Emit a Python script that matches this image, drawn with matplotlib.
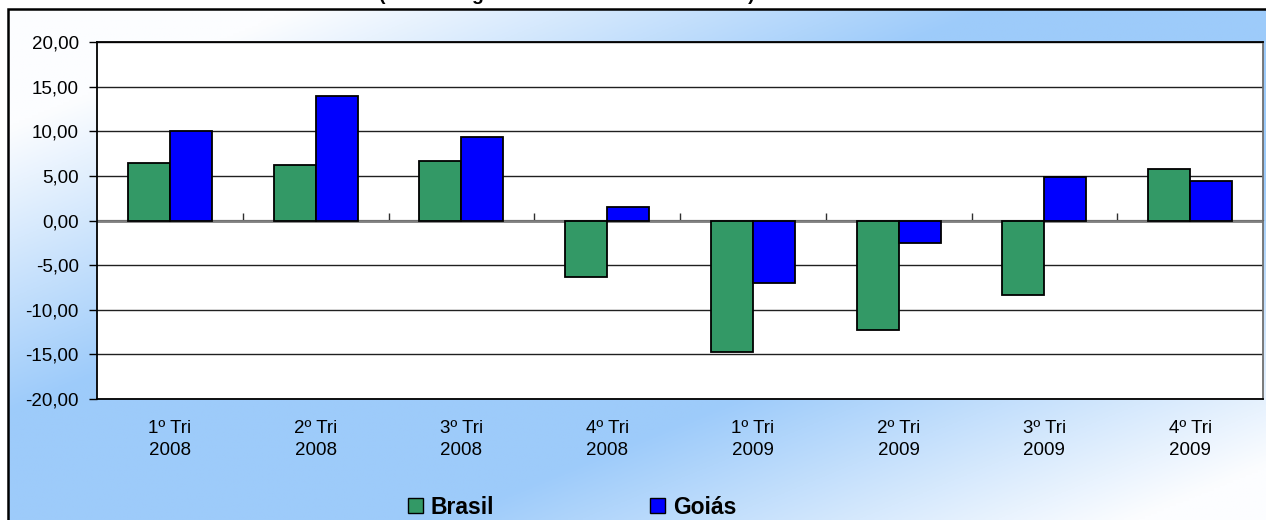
import numpy as np
import matplotlib
matplotlib.use("Agg")
import matplotlib.pyplot as plt
from matplotlib.patches import Rectangle, Patch

# data
categories = ["1º Tri\n2008", "2º Tri\n2008", "3º Tri\n2008", "4º Tri\n2008",
              "1º Tri\n2009", "2º Tri\n2009", "3º Tri\n2009", "4º Tri\n2009"]
brasil = [6.4, 6.2, 6.7, -6.3, -14.7, -12.3, -8.3, 5.8]
goias = [10.0, 14.0, 9.4, 1.5, -7.0, -2.5, 4.9, 4.4]
yticks = [-20, -15, -10, -5, 0, 5, 10, 15, 20]
title = "(% sobre igual trimestre do ano anterior)"

plt.rcParams['font.family'] = ['Liberation Sans', 'DejaVu Sans']

W, H = 1266, 520
fig = plt.figure(figsize=(W / 100, H / 100), dpi=100)
fig.patch.set_facecolor("white")

# gradient background (white corners top-left / bottom-right, blue along the other diagonal)
bg = fig.add_axes([8 / W, 0, 1 - 8 / W, 1 - 9 / H], zorder=0)
xx, yy = np.meshgrid(np.linspace(8 / W, 1, 400), np.linspace(9 / H, 1, 200))
t = xx + yy
f = np.where(t < 1, (t - 0.25) / 0.55, (1.9 - t) / 0.55)
f = np.clip(f, 0, 1)[..., None]
blue = np.array([157, 203, 250]) / 255.0
white = np.array([252, 253, 255]) / 255.0
img = white * (1 - f) + blue * f
bg.imshow(img, aspect="auto", extent=(0, 1, 0, 1), origin="upper")
bg.set_axis_off()

# outer chart border (only top/left visible)
fig.patches.append(Rectangle((8 / W, -0.1), 1.2, 1.1 - 9 / H, transform=fig.transFigure,
                             fill=False, edgecolor="black", linewidth=1.8, zorder=1))

# title sits mostly above the top edge, as in the source image
fig.text(0.448, 1 + 0.5 / H, title, ha="center", va="baseline",
         fontsize=14, fontweight="bold", zorder=3)

ax = fig.add_axes([97 / W, 1 - 399 / H, (1263 - 97) / W, (399 - 42) / H], zorder=2)
ax.set_facecolor("white")

x = np.arange(len(categories))
w = 0.288
ax.bar(x - w / 2, brasil, w, color="#339966", edgecolor="black", linewidth=1.3, zorder=3)
ax.bar(x + w / 2, goias, w, color="#0000FF", edgecolor="black", linewidth=1.3, zorder=3)

ax.set_xlim(-0.5, len(categories) - 0.5)
ax.set_ylim(-20, 20)
ax.set_yticks(yticks)
ax.set_yticklabels([f"{v:.2f}".replace(".", ",") for v in yticks])
ax.set_axisbelow(True)
ax.yaxis.grid(True, color="#202020", linewidth=1.0)
ax.axhline(0, color="#808080", linewidth=2, zorder=2)

ax.set_xticks(x)
ax.set_xticklabels(categories, linespacing=1.4)
ax.tick_params(axis="x", length=0, pad=15, labelsize=13.5)
ax.tick_params(axis="y", direction="out", length=6, width=1, pad=7, labelsize=13.5)

for s in ["left", "top", "bottom"]:
    ax.spines[s].set_color("black")
    ax.spines[s].set_linewidth(1.3)
ax.spines["right"].set_color("#707070")
ax.spines["right"].set_linewidth(1.3)

# small ticks between categories on the zero line
sec = ax.secondary_xaxis(0.5)
sec.set_xticks(x[:-1] + 0.5)
sec.set_xticklabels([])
sec.tick_params(axis="x", direction="out", length=5, width=1, color="#303030")
sec.spines["bottom"].set_visible(False)

handles = [Patch(facecolor="#339966", edgecolor="black", label="Brasil"),
           Patch(facecolor="#0000FF", edgecolor="black", label="Goiás")]
fig.legend(handles=handles, loc="center", bbox_to_anchor=(0.452, 1 - 507 / H), ncol=2,
           frameon=False, handlelength=0.65, handleheight=0.65, handletextpad=0.35,
           columnspacing=6.8, borderpad=0, prop={"weight": "bold", "size": 16.5})

fig.savefig("out.png", dpi=100)
